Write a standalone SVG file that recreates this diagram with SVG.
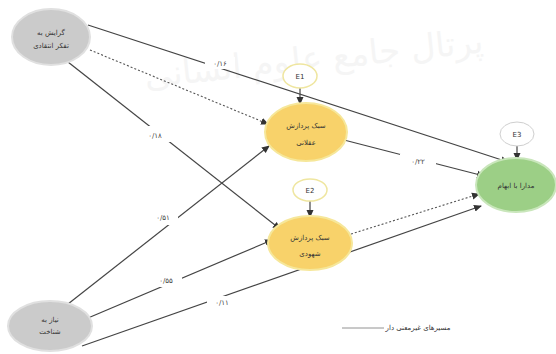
<svg xmlns="http://www.w3.org/2000/svg" width="556" height="354" viewBox="0 0 556 354">
<defs>
<marker id="ah" markerWidth="8" markerHeight="8" refX="7" refY="4" orient="auto" markerUnits="userSpaceOnUse">
<path d="M0,0.5 L8,4 L0,7.5 Z" fill="#333"/>
</marker>
<style>
.ln{stroke:#444;stroke-width:1.2;fill:none}
.dt{stroke:#555;stroke-width:1.1;fill:none;stroke-dasharray:2 2}
.gray{fill:#cbcbcb;stroke:#e0e0e0;stroke-width:2}
.yel{fill:#f8d26a;stroke:#f6e79a;stroke-width:2}
.grn{fill:#9ccf86;stroke:#c9e6bb;stroke-width:2}
.err{fill:#fff;stroke:#efe6a0;stroke-width:1.5}
.err3{fill:#fff;stroke:#cfcfcf;stroke-width:1}
.t{font-family:"DejaVu Sans","Noto Sans",sans-serif;font-size:7px;fill:#333;text-anchor:middle}
.c{font-family:"DejaVu Sans","Noto Sans",sans-serif;font-size:7px;fill:#444;text-anchor:middle}
.lb{fill:#fff}
.wm{font-family:"DejaVu Sans",sans-serif;font-size:34px;fill:#f5f5f5;text-anchor:middle}
</style>
</defs>
<rect width="556" height="354" fill="#fff"/>
<text class="wm" x="315" y="70" transform="rotate(-6 315 70)">پرتال جامع علوم انسانی</text>
<g id="connectors">
<line class="ln" x1="88" y1="25" x2="508" y2="162" marker-end="url(#ah)"/>
<line class="dt" x1="90" y1="50" x2="268" y2="124" marker-end="url(#ah)"/>
<line class="ln" x1="68" y1="62" x2="280" y2="229" marker-end="url(#ah)"/>
<line class="ln" x1="68" y1="304" x2="269" y2="146" marker-end="url(#ah)"/>
<line class="ln" x1="88" y1="318" x2="272" y2="240" marker-end="url(#ah)"/>
<line class="ln" x1="82" y1="346" x2="481" y2="206" marker-end="url(#ah)"/>
<line class="ln" x1="344" y1="140" x2="484" y2="176" marker-end="url(#ah)"/>
<line class="dt" x1="351" y1="234" x2="479" y2="194" marker-end="url(#ah)"/>
<line class="ln" x1="300" y1="88" x2="300" y2="104" marker-end="url(#ah)"/>
<line class="ln" x1="310" y1="201" x2="310" y2="217" marker-end="url(#ah)"/>
<line class="ln" x1="517" y1="146" x2="517" y2="160" marker-end="url(#ah)"/>
<rect class="lb" x="205" y="57" width="30" height="12"/>
<text class="c" x="220" y="66">۰/۱۶</text>
<rect class="lb" x="140" y="126" width="32" height="16"/>
<text class="c" x="155" y="138">۰/۱۸</text>
<rect class="lb" x="148" y="209" width="30" height="16"/>
<text class="c" x="163" y="220">۰/۵۱</text>
<rect class="lb" x="150" y="273" width="32" height="14"/>
<text class="c" x="166" y="283">۰/۵۵</text>
<rect class="lb" x="207" y="296" width="30" height="12"/>
<text class="c" x="222" y="305">۰/۱۱</text>
<rect class="lb" x="400" y="154" width="36" height="14"/>
<text class="c" x="418" y="164">۰/۲۲</text>
</g>
<g id="n-critical">
<ellipse class="gray" cx="51" cy="37" rx="39" ry="28"/>
<text class="t" x="51" y="35">گرایش به</text>
<text class="t" x="51" y="48">تفکر انتقادی</text>
</g>
<g id="n-cognition">
<ellipse class="gray" cx="50" cy="326" rx="42" ry="25"/>
<text class="t" x="50" y="322">نیاز به</text>
<text class="t" x="50" y="334">شناخت</text>
</g>
<g id="n-rational">
<ellipse class="yel" cx="306" cy="132" rx="41" ry="29"/>
<text class="t" x="306" y="128">سبک پردازش</text>
<text class="t" x="306" y="145">عقلانی</text>
</g>
<g id="n-intuitive">
<ellipse class="yel" cx="310" cy="243" rx="42" ry="27"/>
<text class="t" x="310" y="240">سبک پردازش</text>
<text class="t" x="310" y="256">شهودی</text>
</g>
<g id="n-tolerance">
<ellipse class="grn" cx="516" cy="185" rx="40" ry="27"/>
<text class="t" x="516" y="188">مدارا با ابهام</text>
</g>
<g id="n-e1">
<ellipse class="err" cx="300" cy="76" rx="17" ry="12"/>
<text class="t" x="300" y="79">E1</text>
</g>
<g id="n-e2">
<ellipse class="err" cx="310" cy="190" rx="17" ry="11"/>
<text class="t" x="310" y="193">E2</text>
</g>
<g id="n-e3">
<ellipse class="err3" cx="517" cy="134" rx="17" ry="12"/>
<text class="t" x="517" y="137">E3</text>
</g>
<g id="legend">
<line x1="342" y1="328" x2="384" y2="328" stroke="#777" stroke-width="0.8"/>
<text class="t" x="418" y="330">مسیرهای غیرمعنی دار</text>
</g>
</svg>
